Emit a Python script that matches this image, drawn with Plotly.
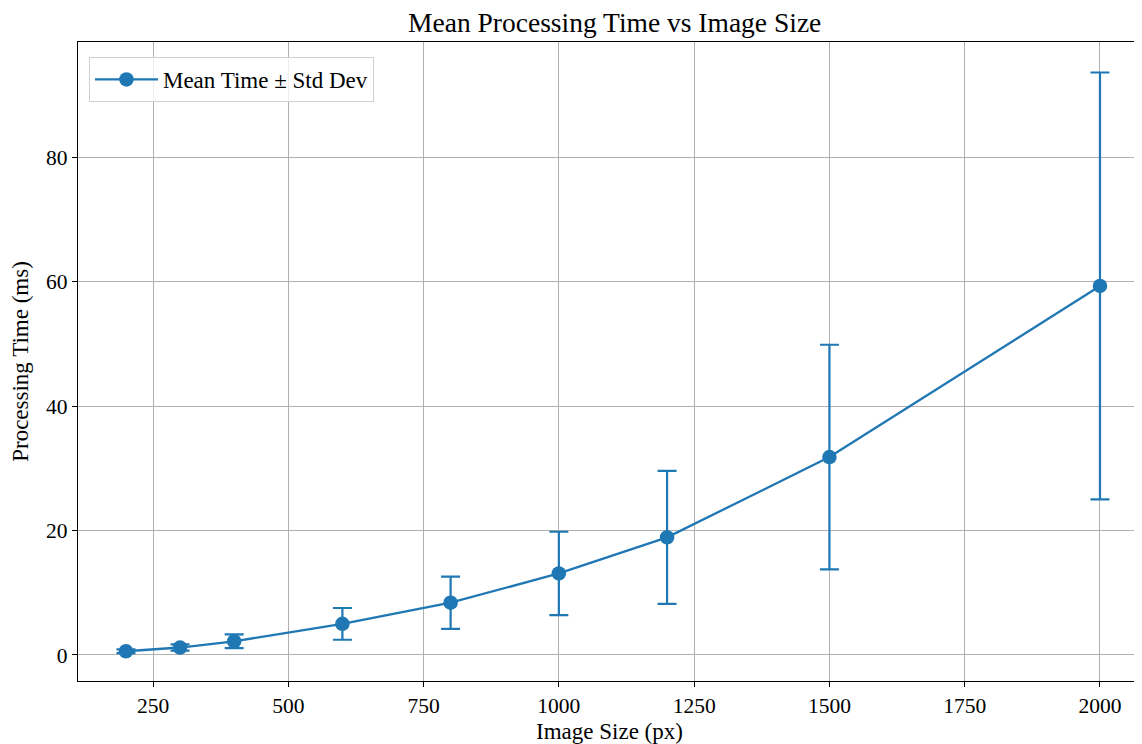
import plotly.graph_objects as go

sizes = [200, 300, 400, 600, 800, 1000, 1200, 1500, 2000]
mean_ms = [0.6, 1.2, 2.2, 5.0, 8.4, 13.1, 18.9, 31.8, 59.3]
std_ms = [0.3, 0.5, 1.1, 2.55, 4.2, 6.7, 10.7, 18.05, 34.3]

blue = "#1f77b4"
font = "Liberation Serif, Times New Roman, serif"

# the page body has an 8px margin, so the figure is sized/offset to compensate
fig = go.Figure()
fig.add_trace(go.Scatter(
    x=sizes, y=mean_ms,
    mode="lines+markers",
    name="Mean Time ± Std Dev",
    line=dict(color=blue, width=2.3),
    marker=dict(color=blue, size=14.5),
    error_y=dict(type="data", array=std_ms, visible=True, color=blue, thickness=2.2, width=9.5),
))

fig.update_layout(
    width=1134, height=736,
    paper_bgcolor="white", plot_bgcolor="white",
    margin=dict(l=70, r=1, t=34, b=63, autoexpand=False),
    font=dict(family=font, size=21.5, color="black"),
    title=dict(text="Mean Processing Time vs Image Size", x=0.535, xanchor="center",
               y=0.9805, yanchor="middle", font=dict(size=27.5, family=font)),
    showlegend=True,
    legend=dict(x=0.0103, y=0.9765, xanchor="left", yanchor="top",
                bgcolor="rgba(255,255,255,0.8)", bordercolor="#d0d0d0", borderwidth=1,
                itemwidth=63,
                font=dict(size=23, family=font)),
)
fig.update_xaxes(
    range=[111.4, 2075.8],
    tickvals=[250, 500, 750, 1000, 1250, 1500, 1750, 2000],
    showgrid=True, gridcolor="#b0b0b0", gridwidth=1,
    showline=True, linecolor="black", linewidth=1.2, mirror=True,
    ticks="outside", ticklen=5, tickcolor="black",
    zeroline=False, automargin=False,
    title=dict(text="Image Size (px)", font=dict(size=23), standoff=6),
)
fig.update_yaxes(
    range=[-4.18, 98.5],
    tickvals=[0, 20, 40, 60, 80],
    showgrid=True, gridcolor="#b0b0b0", gridwidth=1,
    showline=True, linecolor="black", linewidth=1.2, mirror=True,
    ticks="outside", ticklen=5, tickcolor="black",
    zeroline=False, automargin=False,
    title=dict(text="Processing Time (ms)", font=dict(size=23), standoff=13),
)

fig.write_html("out.html")
